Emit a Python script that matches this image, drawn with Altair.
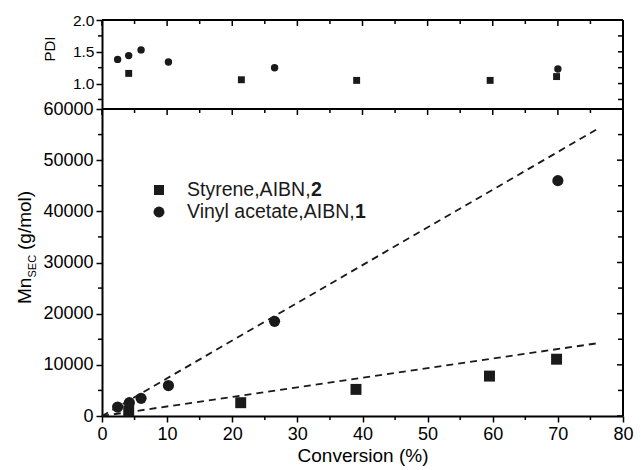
import altair as alt
import pandas as pd

FONT = "Liberation Sans"

# ---------------- data ----------------
styrene_conv = [4.1, 21.3, 39.0, 59.5, 69.8]
styrene_mn = [1000, 2600, 5200, 7800, 11100]
styrene_pdi_conv = [4.1, 21.4, 39.1, 59.6, 69.8]
styrene_pdi = [1.16, 1.06, 1.05, 1.05, 1.11]

vac_conv = [2.4, 4.2, 6.0, 10.2, 26.5, 70.0]
vac_mn = [1750, 2600, 3450, 5950, 18500, 46000]
vac_pdi_conv = [2.4, 4.1, 6.0, 10.2, 26.5, 70.0]
vac_pdi = [1.38, 1.44, 1.53, 1.34, 1.25, 1.23]

styrene_theory_conv = [0, 76.5]
styrene_theory_mn = [0, 14300]
vac_theory_conv = [0, 76.5]
vac_theory_mn = [0, 56400]

x_major = [0, 10, 20, 30, 40, 50, 60, 70, 80]
x_minor = [5, 15, 25, 35, 45, 55, 65, 75]
mn_major = [0, 10000, 20000, 30000, 40000, 50000, 60000]
mn_minor = [5000, 15000, 25000, 35000, 45000, 55000]
pdi_major = [1.0, 1.5, 2.0]
pdi_minor = [0.75, 1.25, 1.75]

legend_labels = ["Styrene,AIBN,", "Vinyl acetate,AIBN,"]
legend_bold = ["2", "1"]
y_title_parts = ["Mn", "SEC", "(g/mol)"]
pdi_title = "PDI"

W = 521
H_TOP = 89
H_BOT = 307

# ---------------- frames ----------------
sty_df = pd.DataFrame({"conv": styrene_conv, "mn": styrene_mn})
vac_df = pd.DataFrame({"conv": vac_conv, "mn": vac_mn})
sty_pdi_df = pd.DataFrame({"conv": styrene_pdi_conv, "pdi": styrene_pdi})
vac_pdi_df = pd.DataFrame({"conv": vac_pdi_conv, "pdi": vac_pdi})
theory_df = pd.DataFrame({
    "conv": styrene_theory_conv + vac_theory_conv,
    "mn": styrene_theory_mn + vac_theory_mn,
    "series": ["sty"] * len(styrene_theory_conv) + ["vac"] * len(vac_theory_conv),
})
xmaj_df = pd.DataFrame({"conv": x_major})
xmin_df = pd.DataFrame({"conv": x_minor})
ymaj_df = pd.DataFrame({"mn": mn_major})
ymin_df = pd.DataFrame({"mn": mn_minor})
pmaj_df = pd.DataFrame({"pdi": pdi_major})
pmin_df = pd.DataFrame({"pdi": pdi_minor})
one = pd.DataFrame({"a": [0]})

xs = alt.Scale(domain=[0, 80], nice=False, zero=False)
ys_b = alt.Scale(domain=[0, 60000], nice=False)
ys_t = alt.Scale(domain=[0.6, 2.0], nice=False, zero=False)

common_axis = dict(labelFont=FONT, labelColor="black", tickColor="black", tickWidth=1.5,
                   domainColor="black", domainWidth=2, grid=False, labelFlush=False,
                   labelOverlap=False)

x_axis = alt.Axis(values=x_major, format="d", title="Conversion (%)", titleFont=FONT,
                  titleFontSize=19, titleFontWeight="normal", titleColor="black",
                  labelFontSize=18, tickSize=6, labelPadding=3, titlePadding=3, **common_axis)
y_axis_b = alt.Axis(values=mn_major, format="d", title="", labelFontSize=18,
                    tickSize=6, labelPadding=3, **common_axis)
y_axis_t = alt.Axis(values=pdi_major, format=".1f", title="", labelFontSize=15.5,
                    tickSize=6, labelPadding=2, **common_axis)

TW = 1.5
BW = 2
INK = "#1a1a1a"


def border(h):
    frame = pd.DataFrame({"a": [0]})
    top_l = alt.Chart(frame).mark_rule(color="black", strokeWidth=BW).encode(
        x=alt.value(0), x2=alt.value(W), y=alt.value(0))
    right_l = alt.Chart(frame).mark_rule(color="black", strokeWidth=BW).encode(
        x=alt.value(W), y=alt.value(0), y2=alt.value(h))
    return [top_l, right_l]


# ---------------- bottom panel ----------------
b_sq = alt.Chart(sty_df).mark_square(size=120, color=INK, opacity=1).encode(
    x=alt.X("conv:Q", scale=xs, axis=x_axis),
    y=alt.Y("mn:Q", scale=ys_b, axis=y_axis_b),
)
b_ci = alt.Chart(vac_df).mark_circle(size=125, color=INK, opacity=1).encode(
    x=alt.X("conv:Q", scale=xs),
    y=alt.Y("mn:Q", scale=ys_b),
)
b_lines = alt.Chart(theory_df).mark_line(color=INK, strokeDash=[7, 5], strokeWidth=1.8).encode(
    x=alt.X("conv:Q", scale=xs),
    y=alt.Y("mn:Q", scale=ys_b),
    detail="series:N",
)
b_xmin = alt.Chart(xmin_df).mark_rule(color="black", strokeWidth=TW).encode(
    x=alt.X("conv:Q", scale=xs), y=alt.value(H_BOT), y2=alt.value(H_BOT + 4))
b_ymin = alt.Chart(ymin_df).mark_rule(color="black", strokeWidth=TW).encode(
    y=alt.Y("mn:Q", scale=ys_b), x=alt.value(0), x2=alt.value(-4))
b_top_maj = alt.Chart(xmaj_df).mark_rule(color="black", strokeWidth=TW).encode(
    x=alt.X("conv:Q", scale=xs), y=alt.value(0), y2=alt.value(6))
b_top_min = alt.Chart(xmin_df).mark_rule(color="black", strokeWidth=TW).encode(
    x=alt.X("conv:Q", scale=xs), y=alt.value(0), y2=alt.value(4))
b_right_maj = alt.Chart(ymaj_df).mark_rule(color="black", strokeWidth=TW).encode(
    y=alt.Y("mn:Q", scale=ys_b), x=alt.value(W), x2=alt.value(W - 6))
b_right_min = alt.Chart(ymin_df).mark_rule(color="black", strokeWidth=TW).encode(
    y=alt.Y("mn:Q", scale=ys_b), x=alt.value(W), x2=alt.value(W - 5))

# legend
LEG_X_SYM = 57
LEG_X_TXT = 85
LEG_Y = [81, 103]
LEG_BOLD_X = [209, 253]
leg_sq = alt.Chart(one).mark_square(size=100, color=INK, opacity=1).encode(
    x=alt.value(LEG_X_SYM), y=alt.value(LEG_Y[0]))
leg_ci = alt.Chart(one).mark_circle(size=120, color=INK, opacity=1).encode(
    x=alt.value(LEG_X_SYM), y=alt.value(LEG_Y[1]))
leg_texts = []
for i in range(2):
    leg_texts.append(alt.Chart(one).mark_text(font=FONT, fontSize=19.5, align="left",
                                              baseline="middle", color=INK).encode(
        x=alt.value(LEG_X_TXT), y=alt.value(LEG_Y[i]), text=alt.value(legend_labels[i])))
    leg_texts.append(alt.Chart(one).mark_text(font=FONT, fontSize=19.5, fontWeight="bold",
                                              align="left", baseline="middle", color=INK).encode(
        x=alt.value(LEG_BOLD_X[i]), y=alt.value(LEG_Y[i]), text=alt.value(legend_bold[i])))

# y title with subscript
t_mn = alt.Chart(one).mark_text(font=FONT, fontSize=19, align="left", baseline="alphabetic",
                                angle=270, color="black").encode(
    x=alt.value(-71), y=alt.value(195), text=alt.value(y_title_parts[0]))
t_sec = alt.Chart(one).mark_text(font=FONT, fontSize=11, align="left", baseline="alphabetic",
                                 angle=270, color="black").encode(
    x=alt.value(-66.5), y=alt.value(168.5), text=alt.value(y_title_parts[1]))
t_gmol = alt.Chart(one).mark_text(font=FONT, fontSize=19, align="left", baseline="alphabetic",
                                  angle=270, color="black").encode(
    x=alt.value(-71), y=alt.value(141), text=alt.value(y_title_parts[2]))

bottom = alt.layer(
    b_sq, b_ci, b_lines, b_xmin, b_ymin, b_top_maj, b_top_min, b_right_maj, b_right_min,
    *border(H_BOT), leg_sq, leg_ci, *leg_texts, t_mn, t_sec, t_gmol,
).properties(width=W, height=H_BOT)

# ---------------- top panel ----------------
t_sq = alt.Chart(sty_pdi_df).mark_square(size=48, color=INK, opacity=1).encode(
    x=alt.X("conv:Q", scale=xs, axis=None),
    y=alt.Y("pdi:Q", scale=ys_t, axis=y_axis_t),
)
t_ci = alt.Chart(vac_pdi_df).mark_circle(size=55, color=INK, opacity=1).encode(
    x=alt.X("conv:Q", scale=xs, axis=None),
    y=alt.Y("pdi:Q", scale=ys_t),
)
t_ymin = alt.Chart(pmin_df).mark_rule(color="black", strokeWidth=TW).encode(
    y=alt.Y("pdi:Q", scale=ys_t), x=alt.value(0), x2=alt.value(-4))
t_top_maj = alt.Chart(xmaj_df).mark_rule(color="black", strokeWidth=TW).encode(
    x=alt.X("conv:Q", scale=xs, axis=None), y=alt.value(0), y2=alt.value(6))
t_top_min = alt.Chart(xmin_df).mark_rule(color="black", strokeWidth=TW).encode(
    x=alt.X("conv:Q", scale=xs, axis=None), y=alt.value(0), y2=alt.value(4))
t_right_maj = alt.Chart(pmaj_df).mark_rule(color="black", strokeWidth=TW).encode(
    y=alt.Y("pdi:Q", scale=ys_t), x=alt.value(W), x2=alt.value(W - 5))
t_right_min = alt.Chart(pmin_df).mark_rule(color="black", strokeWidth=TW).encode(
    y=alt.Y("pdi:Q", scale=ys_t), x=alt.value(W), x2=alt.value(W - 5))
t_pdi = alt.Chart(one).mark_text(font=FONT, fontSize=15, align="center", baseline="middle",
                                 angle=270, color="black").encode(
    x=alt.value(-52.5), y=alt.value(29), text=alt.value(pdi_title))

top = alt.layer(
    t_sq, t_ci, t_ymin, t_top_maj, t_top_min, t_right_maj, t_right_min, *border(H_TOP), t_pdi,
).properties(width=W, height=H_TOP)

chart = alt.vconcat(top, bottom, spacing=0, bounds="flush").properties(
    padding={"left": 7, "top": 4, "right": 0, "bottom": 0}
).configure_view(stroke="black", strokeWidth=2).configure(background="white")

chart.save("out.html", embed_options={"renderer": "svg", "actions": False})
